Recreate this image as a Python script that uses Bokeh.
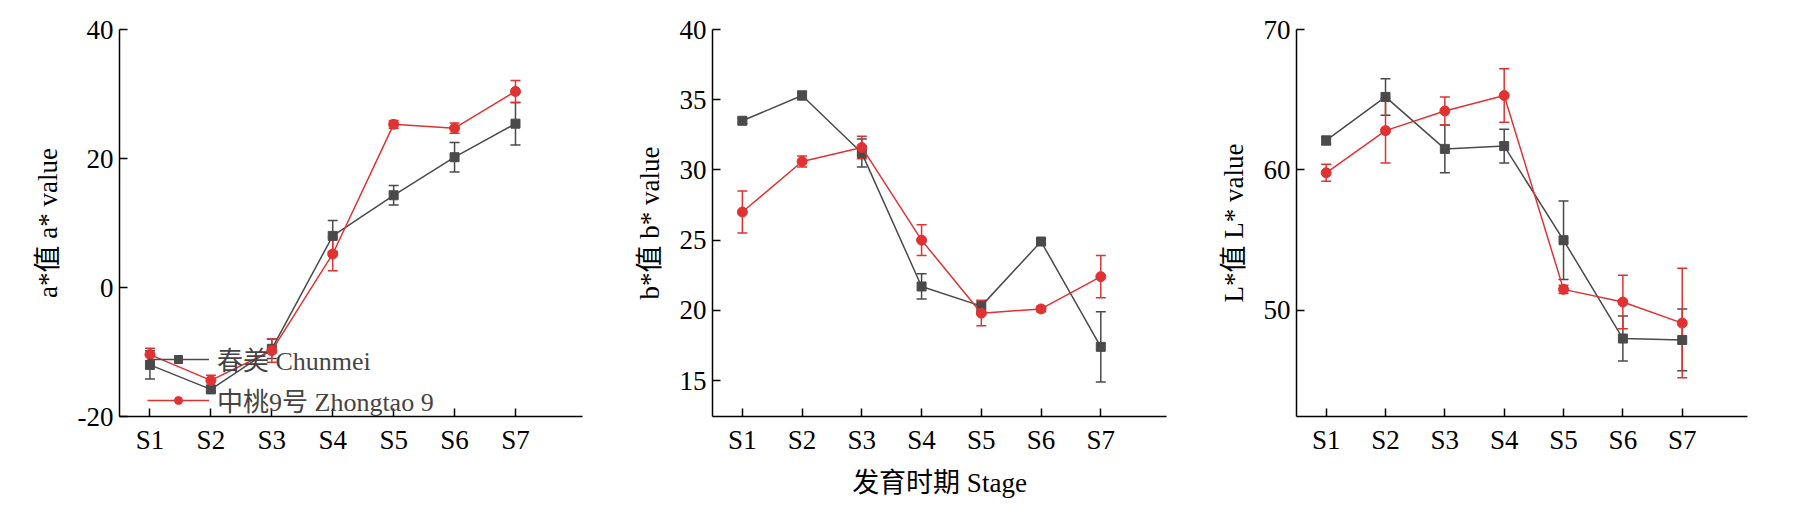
from bokeh.plotting import figure
from bokeh.layouts import row
from bokeh.models import ColumnDataSource, Whisker, TeeHead, FixedTicker, Legend, LegendItem
from bokeh.embed import file_html
from bokeh.resources import INLINE

stages = ["S1", "S2", "S3", "S4", "S5", "S6", "S7"]
xs = [1, 2, 3, 4, 5, 6, 7]

a_chun = [-12.0, -15.8, -9.5, 8.0, 14.3, 20.2, 25.4]
a_chun_err = [2.2, 0.4, 1.5, 2.4, 1.5, 2.3, 3.3]
a_zt = [-10.4, -14.4, -9.8, 5.2, 25.3, 24.7, 30.4]
a_zt_err = [1.0, 0.8, 1.8, 2.6, 0.6, 0.8, 1.7]

b_chun = [33.5, 35.3, 31.2, 21.7, 20.3, 24.9, 17.4]
b_chun_err = [0.2, 0.3, 1.0, 0.9, 0.4, 0.2, 2.5]
b_zt = [27.0, 30.6, 31.6, 25.0, 19.8, 20.1, 22.4]
b_zt_err = [1.5, 0.4, 0.8, 1.1, 0.9, 0.2, 1.5]

l_chun = [62.1, 65.2, 61.5, 61.7, 55.0, 48.0, 47.9]
l_chun_err = [0.3, 1.3, 1.7, 1.2, 2.8, 1.6, 2.2]
l_zt = [59.8, 62.8, 64.2, 65.3, 51.5, 50.6, 49.1]
l_zt_err = [0.6, 2.3, 1.0, 1.9, 0.3, 1.9, 3.9]

GRAY = "#4a4a4a"
RED = "#e03232"
FONT = "Liberation Serif, Noto Sans CJK SC"


def make(width, bl, br, yr, yticks, ylabel, series, xlabel=None, legend=False):
    p = figure(width=width, height=509, x_range=(0.5, 8.1), y_range=yr,
               output_backend="svg", toolbar_location=None,
               min_border_left=bl, min_border_right=br, min_border_top=29, min_border_bottom=93)
    p.outline_line_color = None
    p.grid.grid_line_color = None
    p.xaxis.ticker = FixedTicker(ticks=xs)
    p.xaxis.major_label_overrides = {x: s for x, s in zip(xs, stages)}
    p.yaxis.ticker = FixedTicker(ticks=yticks)
    p.yaxis.major_label_overrides = {t: str(t) for t in yticks}
    for ax in (p.xaxis, p.yaxis):
        ax.axis_line_color = "black"
        ax.axis_line_width = 1.5
        ax.major_tick_in = 8
        ax.major_tick_out = 0
        ax.major_tick_line_width = 1.5
        ax.major_tick_line_color = "black"
        ax.minor_tick_line_color = None
        ax.major_label_text_font = FONT
        ax.major_label_text_font_size = "27px"
        ax.major_label_text_color = "black"
        ax.axis_label_text_font = FONT
        ax.axis_label_text_font_size = "27px"
        ax.axis_label_text_color = "black"
        ax.axis_label_text_font_style = "normal"
    p.yaxis.axis_label = ylabel
    p.yaxis.axis_label_standoff = 12
    p.yaxis.major_label_standoff = 6
    p.xaxis.major_label_standoff = 8
    if xlabel:
        p.xaxis.axis_label = xlabel
        p.xaxis.axis_label_standoff = 10
    items = []
    for vals, errs, color, marker, name in series:
        src = ColumnDataSource(dict(x=xs, y=vals,
                                    lo=[v - e for v, e in zip(vals, errs)],
                                    hi=[v + e for v, e in zip(vals, errs)]))
        w = Whisker(base="x", lower="lo", upper="hi", source=src, line_color=color, line_width=1.5,
                    upper_head=TeeHead(size=10, line_color=color, line_width=1.5),
                    lower_head=TeeHead(size=10, line_color=color, line_width=1.5))
        p.add_layout(w)
        l = p.line("x", "y", source=src, line_color=color, line_width=1.5)
        m = p.scatter("x", "y", source=src, marker=marker, size=10 if marker == "circle" else 9,
                      fill_color=color, line_color=color)
        items.append(LegendItem(label=name, renderers=[l, m]))
    if legend:
        lg = Legend(items=items, location="top_left", border_line_color=None,
                    background_fill_alpha=0, label_text_font=FONT, label_text_font_size="26px",
                    glyph_width=62, spacing=4, padding=0, margin=0, label_height=32,
                    label_standoff=8)
        lg.location = (28, -2)
        p.add_layout(lg, "center")
    return p


p1 = make(612, 119, 30, (-20, 40), [-20, 0, 20, 40], "a*值 a* value",
          [(a_chun, a_chun_err, GRAY, "square", "春美 Chunmei"),
           (a_zt, a_zt_err, RED, "circle", "中桃9号 Zhongtao 9")], legend=True)
p2 = make(580, 100, 26, (12.44, 40), [15, 20, 25, 30, 35, 40], "b*值 b* value",
          [(b_chun, b_chun_err, GRAY, "square", "春美 Chunmei"),
           (b_zt, b_zt_err, RED, "circle", "中桃9号 Zhongtao 9")], xlabel="发育时期 Stage")
p3 = make(585, 104, 30, (42.45, 70), [50, 60, 70], "L*值 L* value",
          [(l_chun, l_chun_err, GRAY, "square", "春美 Chunmei"),
           (l_zt, l_zt_err, RED, "circle", "中桃9号 Zhongtao 9")])

layout = row(p1, p2, p3, spacing=0)
open("out.html", "w").write(file_html(layout, INLINE))
